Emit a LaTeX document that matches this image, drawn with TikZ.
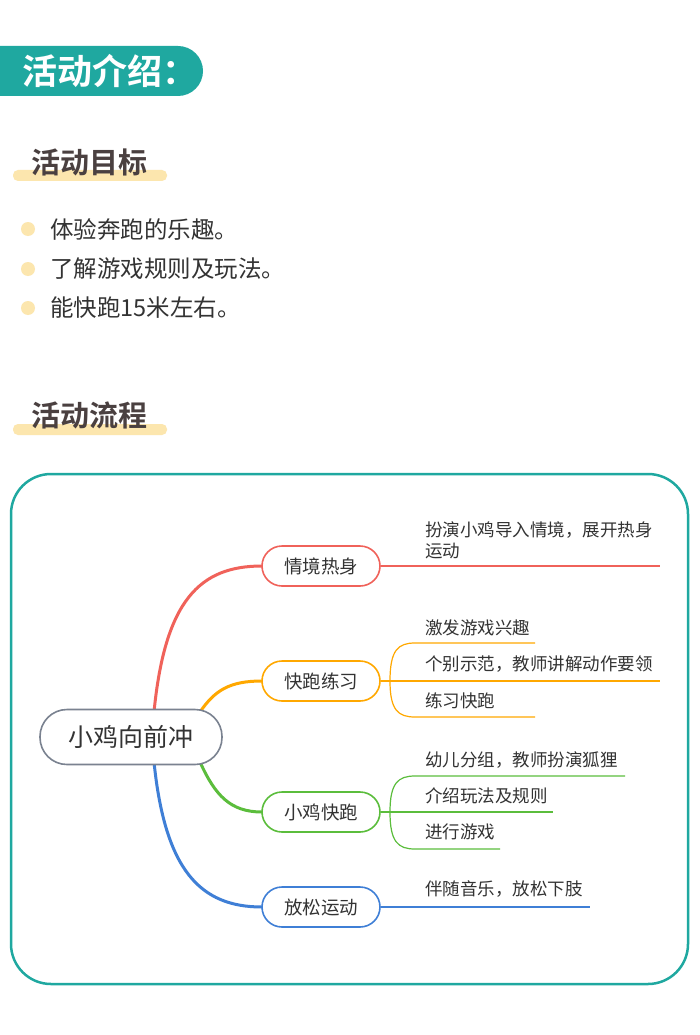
\documentclass[tikz,border=0pt]{standalone}
\usepackage{fontspec}
\setmainfont{Noto Sans CJK SC}
\newfontfamily\cjkb{Noto Sans CJK SC Bold}
\definecolor{teal1}{HTML}{1FA8A0}
\definecolor{yel}{HTML}{FCE6AE}
\definecolor{txt}{HTML}{333333}
\definecolor{hd}{HTML}{4A4040}
\definecolor{cr}{HTML}{F0625A}
\definecolor{co}{HTML}{FFA800}
\definecolor{cg}{HTML}{5BBD3C}
\definecolor{cb}{HTML}{3F7FD6}
\definecolor{gr}{HTML}{7A8290}
\tikzset{
 br/.style={draw=#1,line width=1.6pt,rounded corners=20pt,minimum width=118pt,minimum height=40pt,font=\fontsize{18.5}{20}\selectfont,text=txt,fill=white},
 lf/.style={anchor=west,font=\fontsize{17.5}{21}\selectfont,text=txt,align=left,inner sep=0pt},
 bul/.style={anchor=west,font=\fontsize{23.5}{26}\selectfont,text=txt,inner sep=0pt},
 hdr/.style={anchor=west,font=\cjkb\fontsize{29}{32}\selectfont,text=hd,inner sep=0pt}
}
\begin{document}
\begin{tikzpicture}[x=1pt,y=-1pt]
\useasboundingbox (0,0) rectangle (700,1035);
\fill[white] (0,0) rectangle (700,1035);
% banner
\fill[teal1] (0,46) -- (178,46) arc[start angle=-90,end angle=90,radius=25] -- (0,96) -- cycle;
\node[anchor=west,text=white,font=\cjkb\fontsize{35}{38}\selectfont,inner sep=0pt] (ban) at (22,71) {活动介绍：};
% heading 1
\fill[yel,rounded corners=5pt] (13,170) rectangle (167,181);
\node[hdr] (h1) at (31,162) {活动目标};
\foreach \yy/\t [count=\i] in {229/体验奔跑的乐趣。,269/了解游戏规则及玩法。,308/能快跑15米左右。}{
 \fill[yel] (28,\yy) circle (7);
 \node[bul] (b\i) at (50,\yy) {\t};
}
% heading 2
\fill[yel,rounded corners=5pt] (13,424) rectangle (167,435);
\node[hdr] (h2) at (31,415) {活动流程};
% frame
\draw[teal1,line width=2.5pt,rounded corners=40pt] (11,474) rectangle (688,984);
% curves
\draw[cr,line width=3pt] (154,712) .. controls (165,600) and (200,566) .. (262,566);
\draw[co,line width=3pt] (200,712) .. controls (215,690) and (230,681) .. (262,681);
\draw[cg,line width=3pt] (200,762) .. controls (215,795) and (230,812) .. (262,812);
\draw[cb,line width=3pt] (154,762) .. controls (165,870) and (200,907) .. (262,907);
\node[draw=gr,line width=1.6pt,rounded corners=27pt,minimum width=182pt,minimum height=55pt,fill=white,font=\fontsize{25}{27}\selectfont,text=txt] (root) at (131,737) {小鸡向前冲};
\node[br=cr] (n1) at (321,566) {情境热身};
\node[br=co] (n2) at (321,681) {快跑练习};
\node[br=cg] (n3) at (321,812) {小鸡快跑};
\node[br=cb] (n4) at (321,907) {放松运动};
% leaves 1
\coordinate (e1) at (660,566);
\draw[cr,line width=1.2pt] (n1.east) -- (e1);
\node[lf] (l1) at (425,540) {扮演小鸡导入情境，展开热身\\运动};
% leaves 2
\coordinate (j2) at (390,681);
\coordinate (a2) at (535,643);\coordinate (b2) at (660,681);\coordinate (c2) at (535,717);
\draw[co,line width=1.2pt] (n2.east) -- (b2);
\draw[co,line width=1.2pt] (j2) .. controls (390,650) and (398,643) .. (415,643) -- (a2);
\draw[co,line width=1.2pt] (j2) .. controls (390,710) and (398,717) .. (415,717) -- (c2);
\node[lf] (l21) at (425,628) {激发游戏兴趣};
\node[lf] (l22) at (425,664) {个别示范，教师讲解动作要领};
\node[lf] (l23) at (425,701) {练习快跑};
% leaves 3
\coordinate (j3) at (390,812);
\coordinate (a3) at (625,776);\coordinate (b3) at (553,812);\coordinate (c3) at (500,849);
\draw[cg,line width=1.2pt] (n3.east) -- (b3);
\draw[cg,line width=1.2pt] (j3) .. controls (390,783) and (398,776) .. (415,776) -- (a3);
\draw[cg,line width=1.2pt] (j3) .. controls (390,842) and (398,849) .. (415,849) -- (c3);
\node[lf] (l31) at (425,760) {幼儿分组，教师扮演狐狸};
\node[lf] (l32) at (425,796) {介绍玩法及规则};
\node[lf] (l33) at (425,832) {进行游戏};
% leaves 4
\coordinate (e4) at (590,907);
\draw[cb,line width=1.2pt] (n4.east) -- (e4);
\node[lf] (l4) at (425,889) {伴随音乐，放松下肢};
\end{tikzpicture}
\end{document}
